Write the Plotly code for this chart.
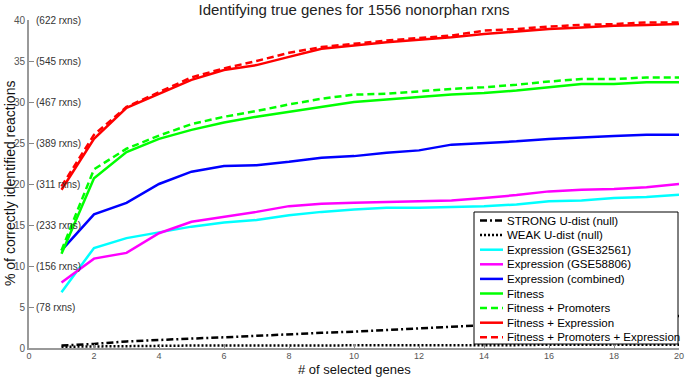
import plotly.graph_objects as go

# ---------------- data ----------------
genes = list(range(1, 21))

strong_null = [0.3, 0.5, 0.8, 1.0, 1.15, 1.3, 1.5, 1.7, 1.85, 2.0,
               2.2, 2.4, 2.6, 2.8, 3.0, 3.2, 3.4, 3.6, 3.75, 3.9]
weak_null = [0.15, 0.2, 0.25, 0.25, 0.3, 0.3, 0.3, 0.3, 0.35, 0.35,
             0.35, 0.35, 0.35, 0.35, 0.35, 0.4, 0.4, 0.4, 0.4, 0.4]
expr_gse32561 = [6.8, 12.2, 13.4, 14.1, 14.8, 15.3, 15.6, 16.2, 16.6, 16.9,
                 17.1, 17.1, 17.2, 17.3, 17.5, 17.9, 18.0, 18.3, 18.4, 18.7]
expr_gse58806 = [8.0, 10.9, 11.6, 14.0, 15.4, 16.0, 16.6, 17.3, 17.6, 17.7,
                 17.8, 17.9, 18.0, 18.3, 18.65, 19.1, 19.3, 19.4, 19.6, 20.0]
expr_combined = [11.9, 16.3, 17.7, 20.0, 21.5, 22.2, 22.3, 22.7, 23.2, 23.4,
                 23.8, 24.1, 24.8, 25.0, 25.2, 25.5, 25.7, 25.85, 26.0, 26.0]
fitness = [11.5, 20.7, 23.9, 25.5, 26.6, 27.5, 28.2, 28.8, 29.4, 30.0,
           30.3, 30.6, 30.9, 31.1, 31.4, 31.8, 32.2, 32.2, 32.4, 32.4]
fitness_prom = [11.9, 21.8, 24.3, 25.9, 27.3, 28.2, 28.9, 29.7, 30.4, 30.9,
                31.0, 31.3, 31.6, 31.8, 32.1, 32.5, 32.8, 32.8, 33.0, 33.0]
fitness_expr = [19.3, 25.5, 29.3, 31.0, 32.7, 33.9, 34.5, 35.5, 36.5, 36.9,
                37.3, 37.6, 37.9, 38.3, 38.6, 38.9, 39.1, 39.3, 39.4, 39.5]
fitness_prom_expr = [19.7, 26.0, 29.4, 31.2, 33.0, 34.1, 35.0, 36.0, 36.7, 37.1,
                     37.5, 37.8, 38.1, 38.7, 38.9, 39.2, 39.4, 39.5, 39.7, 39.7]

x_ticks = list(range(0, 21, 2))
y_ticks = [0, 5, 10, 15, 20, 25, 30, 35, 40]
rxn_ticks = [5, 10, 15, 20, 25, 30, 35, 40]
rxn_labels = ["(78 rxns)", "(156 rxns)", "(233 rxns)", "(311 rxns)",
              "(389 rxns)", "(467 rxns)", "(545 rxns)", "(622 rxns)"]

series = [
    ("STRONG U-dist (null)", strong_null, "black", "7px,3px,2px,3px"),
    ("WEAK U-dist (null)", weak_null, "black", "2px,2px"),
    ("Expression (GSE32561)", expr_gse32561, "cyan", "solid"),
    ("Expression (GSE58806)", expr_gse58806, "magenta", "solid"),
    ("Expression (combined)", expr_combined, "blue", "solid"),
    ("Fitness", fitness, "#00ff00", "solid"),
    ("Fitness + Promoters", fitness_prom, "#00ff00", "7px,4px"),
    ("Fitness + Expression", fitness_expr, "red", "solid"),
    ("Fitness + Promoters + Expression", fitness_prom_expr, "red", "7px,4px"),
]

# ---------------- layout constants ----------------
W, H = 685, 377
L, R, T, B = 29, 6, 20, 29
PW, PH = W - L - R, H - T - B
FONT = "Liberation Sans, Arial, sans-serif"

def px_x(p):
    return (p - L) / PW

def px_y(p):
    return (H - B - p) / PH

fig = go.Figure()
for name, vals, color, dash in series:
    fig.add_trace(go.Scatter(x=genes, y=vals, mode="lines", name=name,
                             line=dict(color=color, width=2.5, dash=dash),
                             showlegend=False))

annotations = []
# rxns annotations next to y ticks
for v, lab in zip(rxn_ticks, rxn_labels):
    annotations.append(dict(x=0, y=v, xref="x", yref="y", text=lab,
                            showarrow=False, xanchor="left", yanchor="middle",
                            xshift=5, font=dict(size=10, color="#333", family=FONT)))

# axis titles
annotations.append(dict(x=px_x(354), y=px_y(369), xref="paper", yref="paper",
                        text="# of selected genes", showarrow=False,
                        xanchor="center", yanchor="middle",
                        font=dict(size=13, color="#111", family=FONT)))
annotations.append(dict(x=px_x(10), y=px_y(184), xref="paper", yref="paper",
                        text="% of correctly identified reactions", showarrow=False,
                        textangle=-90, xanchor="center", yanchor="middle",
                        font=dict(size=14, color="#111", family=FONT)))

# manual legend (compact, like MATLAB)
shapes = []
lg_x0, lg_x1, lg_y0, lg_y1 = 474, 678, 212, 344
shapes.append(dict(type="rect", xref="paper", yref="paper",
                   x0=px_x(lg_x0), x1=px_x(lg_x1), y0=px_y(lg_y1), y1=px_y(lg_y0),
                   line=dict(color="black", width=1), fillcolor="white", layer="above"))
for i, (name, vals, color, dash) in enumerate(series):
    yy = px_y(220.5 + 14.6 * i)
    shapes.append(dict(type="line", xref="paper", yref="paper",
                       x0=px_x(480), x1=px_x(503), y0=yy, y1=yy, layer="above",
                       line=dict(color=color, width=2.5, dash=dash)))
    annotations.append(dict(x=px_x(505), y=yy, xref="paper", yref="paper", text=name,
                            showarrow=False, xanchor="left", yanchor="middle",
                            font=dict(size=11.5, color="black", family=FONT)))

fig.update_layout(
    width=W, height=H,
    margin=dict(l=L, r=R, t=T, b=B, autoexpand=False),
    paper_bgcolor="white", plot_bgcolor="white",
    font=dict(family=FONT),
    title=dict(text="Identifying true genes for 1556 nonorphan rxns",
               x=(L + PW / 2) / W, xanchor="center", y=1 - 10 / H, yanchor="middle",
               font=dict(size=15, color="#222", family=FONT)),
    shapes=shapes,
    annotations=annotations,
    showlegend=False,
)
fig.update_xaxes(range=[0, 20], tickvals=x_ticks, automargin=False,
                 ticks="inside", ticklen=4, tickcolor="#888", showgrid=False,
                 zeroline=False, showline=True, linecolor="#999", linewidth=2,
                 ticklabelstandoff=-2,
                 tickfont=dict(size=9, color="#555", family=FONT))
fig.update_yaxes(range=[0, 40], tickvals=y_ticks, automargin=False,
                 ticks="inside", ticklen=5, tickcolor="#888", showgrid=False,
                 zeroline=False, showline=True, linecolor="#999", linewidth=2,
                 tickfont=dict(size=10, color="#555", family=FONT))

fig.write_html("out.html", config={"displayModeBar": False},
               post_script="document.body.style.margin='0';document.body.style.overflow='hidden';")
